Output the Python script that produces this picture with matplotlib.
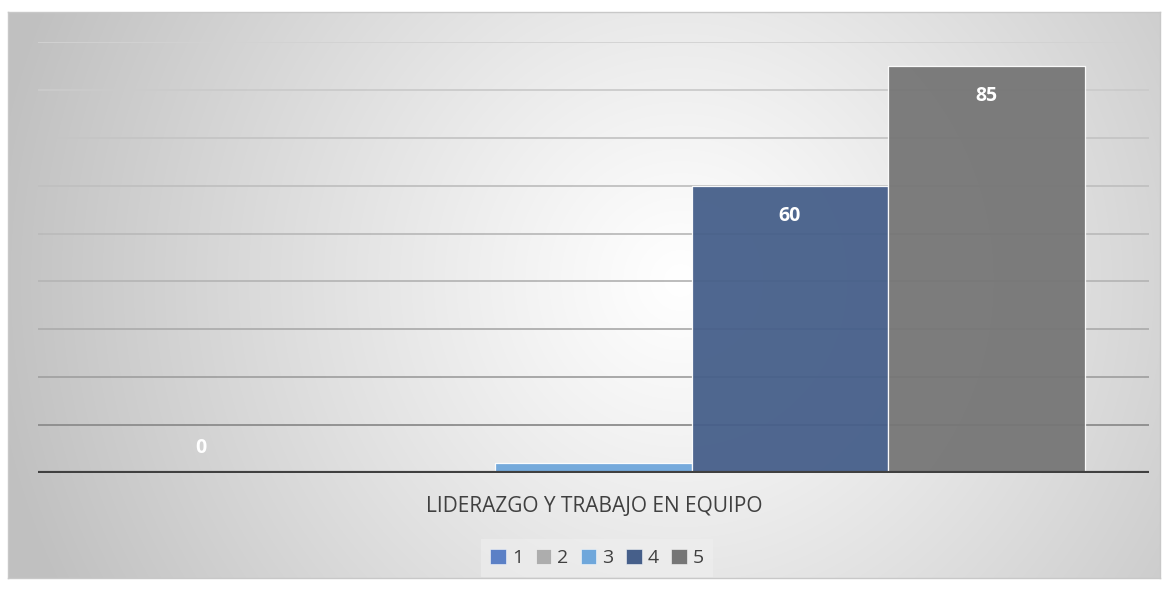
import numpy as np
import matplotlib
matplotlib.use("Agg")
import matplotlib.pyplot as plt
from matplotlib.patches import Patch

# ---- data ----
category = "LIDERAZGO Y TRABAJO EN EQUIPO"
series_names = ["1", "2", "3", "4", "5"]
values = [0, 0, 2, 60, 85]
labels_shown = ["0", None, None, "60", "85"]
colors = ["#5B80C6", "#ADADAD", "#6FA7DB", "#465F8A", "#767676"]
ymax = 90
ystep = 10

W, H = 1168, 591
fig = plt.figure(figsize=(W / 100, H / 100), dpi=100)
fig.patch.set_facecolor("white")

# ---- chart area with radial gradient ----
cx0, cy0, cx1, cy1 = 8, 12, 1160, 578
bg = fig.add_axes([cx0 / W, 1 - cy1 / H, (cx1 - cx0) / W, (cy1 - cy0) / H])
xs = np.arange(cx0, cx1)
ys = np.arange(cy0, cy1)
X, Y = np.meshgrid(xs, ys)
d = np.sqrt((X - 680) ** 2 + (Y - 280) ** 2)
R = 700.0
t = np.clip(d / R, 0, 1)
v = (255 - (255 - 192) * t ** 1.1) / 255.0
img = np.dstack([v, v, v])
bg.imshow(img, aspect="auto", extent=[0, 1, 0, 1], interpolation="bilinear")
bg.set_xlim(0, 1)
bg.set_ylim(0, 1)
bg.set_xticks([])
bg.set_yticks([])
for s in bg.spines.values():
    s.set_color("#c8c8c8")
    s.set_linewidth(1.0)

# ---- plot area ----
px0, px1 = 38, 1149
pbase, ptop = 473, 42
ax = fig.add_axes([px0 / W, 1 - pbase / H, (px1 - px0) / W, (pbase - ptop) / H])
ax.patch.set_alpha(0)
ax.set_xlim(-0.5, 0.5)
ax.set_ylim(0, ymax)

bw = 196.4 / (px1 - px0)
n = len(values)
for i, (val, col) in enumerate(zip(values, colors)):
    x = (i - (n - 1) / 2) * bw
    ax.bar(x, val, width=bw, color=col, alpha=0.95, edgecolor=(1, 1, 1, 0.55),
           linewidth=0.9, zorder=3)
    lab = labels_shown[i]
    if lab is not None:
        off = -21.5 if val > 5 else 18
        ax.annotate(lab, (x, val), xytext=(0, off), textcoords="offset points",
                    ha="center", va="center", color="white", fontsize=14,
                    fontweight="bold", family="Open Sans", zorder=5)

# gridlines
yticks = np.arange(ystep, ymax + 0.1, ystep)
grid_greys = ["#8c8c8c", "#a2a2a2", "#aeaeae", "#b6b6b6", "#bbbbbb",
              "#c0c0c0", "#c5c5c5", "#cbcbcb", "#d2d2d2"]
for yv, gc in zip(yticks, grid_greys):
    ax.axhline(yv, color=gc, linewidth=1.3, zorder=1)
ax.axhline(0, color="#404040", linewidth=3, zorder=4)

ax.set_xticks([])
ax.set_yticks([])
for s in ax.spines.values():
    s.set_visible(False)

# category label
fig.text(594 / W, 1 - 506 / H, category, ha="center", va="center",
         fontsize=15, color="#404040", family="Open Sans")

# legend
handles = [Patch(facecolor=c, edgecolor=(1, 1, 1, 0.6), linewidth=0.6) for c in colors]
leg = fig.legend(handles, series_names, loc="center", bbox_to_anchor=(597 / W, 1 - 558 / H),
                 ncol=5, frameon=True, handlelength=0.8, handleheight=0.8,
                 handletextpad=0.3, columnspacing=0.65, borderpad=0.5,
                 prop={"family": "Open Sans", "size": 14})
leg.get_frame().set_facecolor("#efefef")
leg.get_frame().set_alpha(0.6)
leg.get_frame().set_edgecolor("none")
leg.get_frame().set_boxstyle("square", pad=0.0)
for t_ in leg.get_texts():
    t_.set_color("#404040")

fig.savefig("out.png", dpi=100, facecolor="white")
